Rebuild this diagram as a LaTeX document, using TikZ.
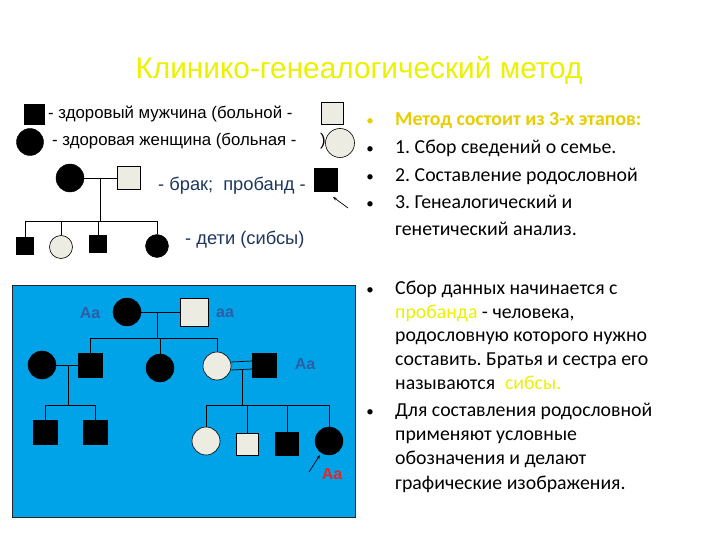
\documentclass[tikz,border=0pt]{standalone}
\usepackage{fontspec}
\setmainfont{Carlito}
\newfontfamily\arialf{Liberation Sans}
\usetikzlibrary{arrows.meta}
\definecolor{skyb}{RGB}{0,162,232}
\definecolor{lightf}{RGB}{236,236,226}
\definecolor{titley}{RGB}{235,242,0}
\definecolor{goldt}{RGB}{232,205,0}
\definecolor{genob}{RGB}{45,95,165}
\definecolor{legb}{RGB}{30,55,95}
\definecolor{redt}{RGB}{225,40,40}
\frenchspacing
\begin{document}
\frenchspacing
\begin{tikzpicture}[x=1pt,y=-1pt,
  sqB/.style={rectangle,fill=black,draw=black,inner sep=0pt,minimum size=#1pt},
  sqL/.style={rectangle,fill=lightf,draw=black,line width=0.6pt,inner sep=0pt,minimum size=#1pt},
  ciB/.style={circle,fill=black,draw=black,inner sep=0pt,minimum size=#1pt},
  ciL/.style={circle,fill=lightf,draw=black,line width=0.6pt,inner sep=0pt,minimum size=#1pt},
  legtxt/.style={font=\arialf\fontsize{16.8}{19}\selectfont,anchor=west,inner sep=0pt},
  legbtxt/.style={font=\arialf\fontsize{18.3}{21}\selectfont,anchor=west,inner sep=0pt,text=legb},
  geno/.style={font=\arialf\bfseries\fontsize{16}{18}\selectfont,text=genob,inner sep=0pt},
  rtxt/.style={font=\fontsize{19.8}{23}\selectfont,anchor=base west,inner sep=0pt},
  bul/.style={font=\fontsize{15}{18}\selectfont,inner sep=0pt,anchor=base},
  conn/.style={draw=black,line width=0.7pt}
]
\useasboundingbox (0,0) rectangle (720,540);
\fill[white] (0,0) rectangle (720,540);

% title
\node[font=\arialf\fontsize{29.8}{33}\selectfont,text=titley] (title) at (359,70) {Клинико-генеалогический метод};

% legend
\node[sqB=20] (lm) at (34,114) {};
\node[legtxt] (lmt) at (48,114) {- здоровый мужчина (больной -};
\node[sqL=22] (lmi) at (332,113) {};
\node[ciB=27] (lf) at (30,142) {};
\node[legtxt] (lft) at (52,141) {- здоровая женщина (больная -};
\node[ciL=29] (lfi) at (340,143) {};
\node[font=\arialf\fontsize{16.8}{19}\selectfont,inner sep=0pt] (par) at (323,141) {)};

\node[ciB=28] (bf) at (70,178) {};
\node[sqL=23] (bm) at (129,178) {};
\draw[conn] (bf.east) -- (bm.west);
\coordinate (bj) at (100,178);
\coordinate (bs) at (100,221);
\draw[conn] (bj) -- (bs);
\node[legbtxt] (brak) at (158,186) {- брак;\hspace{10pt}пробанд -};
\node[sqB=23] (prob) at (326,180) {};
\coordinate (pa) at (348,208);
\draw[conn,-{Stealth[length=4pt,width=3pt]}] (pa) -- (333,197);

\node[sqB=17] (c1) at (25,246) {};
\node[ciL=23] (c2) at (61,247) {};
\node[sqB=17] (c3) at (98,244) {};
\node[ciB=23] (c4) at (157,246) {};
\draw[conn] (c1.north) -- (c1.north |- bs) -- (c4.north |- bs) -- (c4.north);
\draw[conn] (c2.north) -- (c2.north |- bs);
\draw[conn] (c3.north) -- (c3.north |- bs);
\node[legbtxt] (deti) at (185,240) {- дети (сибсы)};

% blue panel
\fill[skyb] (12,285) rectangle (355,517);
\draw[black!85,line width=0.8pt] (12,285) rectangle (355,517);

% generation I
\node[ciB=28] (g1f) at (127,312) {};
\node[sqL=28] (g1m) at (194,312) {};
\draw[conn] (g1f.east) -- (g1m.west);
\node[geno] (gAa1) at (90,313) {Aa};
\node[geno] (gaa) at (225,313) {aa};
\coordinate (g1j) at (157,312);
\coordinate (g1s) at (157,338);
\draw[conn] (g1j) -- (g1s);

% generation II
\node[ciB=28] (a0) at (42,365) {};
\node[sqB=24] (a1) at (90,365) {};
\node[ciB=28] (a2) at (160,368) {};
\node[ciL=28] (a3) at (217,366) {};
\node[sqB=24] (a4) at (264,365) {};
\draw[conn] (a1.north) -- (a1.north |- g1s) -- (a3.north |- g1s) -- (a3.north);
\draw[conn] (a2.north) -- (a2.north |- g1s);
\draw[conn] (a0.east) -- (a1.west);
\draw[conn] ([yshift=4pt]a3.east) -- ([yshift=4pt]a4.west);
\draw[conn] ([yshift=-4pt]a3.east) -- ([yshift=-4pt]a4.west);
\node[geno] (gAa2) at (305,364) {Aa};

% generation III left
\coordinate (lj) at (68,365);
\coordinate (ls) at (68,405);
\draw[conn] (lj) -- (ls);
\node[sqB=24] (b1) at (45,432) {};
\node[sqB=24] (b2) at (95,432) {};
\draw[conn] (b1.north) -- (b1.north |- ls) -- (b2.north |- ls) -- (b2.north);

% generation III right
\coordinate (rj) at (242,370);
\coordinate (rs) at (242,405);
\draw[conn] (rj) -- (rs);
\node[ciL=28] (d1) at (206,441) {};
\node[sqL=22] (d2) at (247,444) {};
\node[sqB=23] (d3) at (287,444) {};
\node[ciB=28] (d4) at (329,441) {};
\draw[conn] (d1.north) -- (d1.north |- rs) -- (d4.north |- rs) -- (d4.north);
\draw[conn] (d2.north) -- (d2.north |- rs);
\draw[conn] (d3.north) -- (d3.north |- rs);
\coordinate (pr) at (309,472);
\draw[conn,-{Stealth[length=4pt,width=3pt]}] (pr) -- (320,455);
\node[geno,text=redt] (gAa3) at (332,474) {Aa};

% right text (baselines)
\node[bul,text=goldt] (u1) at (370,126) {•};
\node[rtxt,text=goldt,font=\bfseries\fontsize{19.8}{23}\selectfont] (t1) at (395,126) {Метод состоит из 3-х этапов:};
\node[bul] (u2) at (370,154) {•};
\node[rtxt] (t2) at (395,154) {1. Сбор сведений о семье.};
\node[bul] (u3) at (370,182) {•};
\node[rtxt] (t3) at (395,182) {2. Составление родословной};
\node[bul] (u4) at (370,209) {•};
\node[rtxt] (t4) at (395,209) {3. Генеалогический и};
\node[rtxt] (t5) at (395,236) {генетический анализ.};

\node[bul] (u5) at (370,294) {•};
\node[rtxt] (s1) at (395,294) {Сбор данных начинается с};
\node[rtxt] (s2) at (395,318) {\textcolor{titley}{пробанда} - человека,};
\node[rtxt] (s3) at (395,341) {родословную которого нужно};
\node[rtxt] (s4) at (395,365) {составить. Братья и сестра его};
\node[rtxt] (s5) at (395,389) {называются\enspace\textcolor{titley}{сибсы.}};
\node[bul] (u6) at (370,416) {•};
\node[rtxt] (s6) at (395,416) {Для составления родословной};
\node[rtxt] (s7) at (395,440) {применяют условные};
\node[rtxt] (s8) at (395,464) {обозначения и делают};
\node[rtxt] (s9) at (395,489) {графические изображения.};
\end{tikzpicture}
\end{document}
